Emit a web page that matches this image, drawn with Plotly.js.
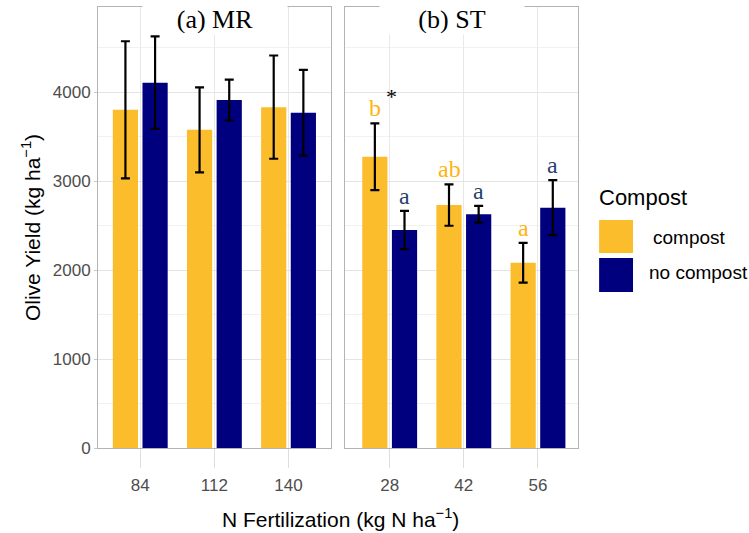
<!DOCTYPE html>
<html>
<head>
<meta charset="utf-8">
<script src="https://cdn.plot.ly/plotly-3.0.1.min.js"></script>
<style>html,body{margin:0;padding:0;background:#fff;}#chart{width:749px;height:533px;}</style>
</head>
<body>
<div id="chart"></div>
<script>
// ---- data ----
const nLevelsMR = ['84', '112', '140'];
const nLevelsST = ['28', '42', '56'];
const compostMR = [3800, 3575, 3830];
const compostMRErr = [770, 478, 580];
const noCompostMR = [4105, 3910, 3767];
const noCompostMRErr = [520, 230, 482];
const compostST = [3273, 2730, 2082];
const compostSTErr = [375, 233, 223];
const noCompostST = [2449, 2626, 2700];
const noCompostSTErr = [215, 94, 309];
const lettersCompostST = ['b', 'ab', 'a'];
const lettersNoCompostST = ['a', 'a', 'a'];
const sigMarksST = ['*', '', ''];
const seriesNames = ['compost', 'no compost'];
const panelTitles = ['(a) MR', '(b) ST'];

// ---- styles ----
const ORANGE = '#FBBD2B';
const NAVY = '#00007F';
const LETTER_ORANGE = '#FFB40F';
const LETTER_NAVY = '#2A3F70';
const SANS = 'Liberation Sans, Arial, sans-serif';
const SERIF = 'Liberation Serif, Times New Roman, serif';

function errBar(arr) {
  return {type: 'data', array: arr, visible: true, color: '#000', thickness: 2.2, width: 4.5};
}

const traces = [
  {type: 'bar', x: nLevelsMR, y: compostMR, name: seriesNames[0], marker: {color: ORANGE},
   error_y: errBar(compostMRErr), xaxis: 'x', yaxis: 'y', showlegend: false, offsetgroup: 'c'},
  {type: 'bar', x: nLevelsMR, y: noCompostMR, name: seriesNames[1], marker: {color: NAVY},
   error_y: errBar(noCompostMRErr), xaxis: 'x', yaxis: 'y', showlegend: false, offsetgroup: 'n'},
  {type: 'bar', x: nLevelsST, y: compostST, name: seriesNames[0], marker: {color: ORANGE},
   error_y: errBar(compostSTErr), xaxis: 'x2', yaxis: 'y2', showlegend: false, offsetgroup: 'c'},
  {type: 'bar', x: nLevelsST, y: noCompostST, name: seriesNames[1], marker: {color: NAVY},
   error_y: errBar(noCompostSTErr), xaxis: 'x2', yaxis: 'y2', showlegend: false, offsetgroup: 'n'}
];

const annotations = [];
// significance letters
lettersCompostST.forEach((t, i) => {
  annotations.push({xref: 'x2', yref: 'y2', x: i - 0.2, y: compostST[i] + compostSTErr[i],
    text: t, showarrow: false, yanchor: 'bottom', font: {family: SERIF, size: 24, color: LETTER_ORANGE}});
});
lettersNoCompostST.forEach((t, i) => {
  annotations.push({xref: 'x2', yref: 'y2', x: i + 0.2, y: noCompostST[i] + noCompostSTErr[i],
    text: t, showarrow: false, yanchor: 'bottom', font: {family: SERIF, size: 24, color: LETTER_NAVY}});
});
sigMarksST.forEach((t, i) => {
  if (!t) return;
  annotations.push({xref: 'x2', yref: 'y2', x: i + 0.02, y: compostST[i] + compostSTErr[i] + 300,
    text: t, showarrow: false, yanchor: 'middle', font: {family: SERIF, size: 22, color: '#000'}});
});
// panel titles
annotations.push({xref: 'paper', yref: 'paper', x: 0.243, y: 0.971, text: panelTitles[0], showarrow: false,
  yanchor: 'middle', xanchor: 'center', bgcolor: '#fff', width: 142, height: 27,
  font: {family: SERIF, size: 26, color: '#000'}});
annotations.push({xref: 'paper', yref: 'paper', x: 0.738, y: 0.971, text: panelTitles[1], showarrow: false,
  yanchor: 'middle', xanchor: 'center', bgcolor: '#fff', width: 142, height: 27,
  font: {family: SERIF, size: 26, color: '#000'}});
// x title
annotations.push({xref: 'paper', yref: 'paper', x: 0.506, y: -0.159, text: 'N Fertilization (kg N ha<sup>\u22121</sup>)',
  showarrow: false, xanchor: 'center', yanchor: 'middle', font: {family: SANS, size: 21, color: '#000'}});
// legend
annotations.push({xref: 'paper', yref: 'paper', x: 1.04, y: 0.569, text: 'Compost', showarrow: false,
  xanchor: 'left', yanchor: 'middle', font: {family: SANS, size: 22, color: '#000'}});
annotations.push({xref: 'paper', yref: 'paper', x: 1.152, y: 0.478, text: seriesNames[0], showarrow: false,
  xanchor: 'left', yanchor: 'middle', font: {family: SANS, size: 19, color: '#000'}});
annotations.push({xref: 'paper', yref: 'paper', x: 1.144, y: 0.397, text: seriesNames[1], showarrow: false,
  xanchor: 'left', yanchor: 'middle', font: {family: SANS, size: 19, color: '#000'}});

const shapes = [
  {type: 'rect', xref: 'paper', yref: 'paper', x0: 1.044, x1: 1.1146, y0: 0.442, y1: 0.517,
   fillcolor: ORANGE, line: {width: 0}},
  {type: 'rect', xref: 'paper', yref: 'paper', x0: 1.044, x1: 1.1146, y0: 0.354, y1: 0.431,
   fillcolor: NAVY, line: {width: 0}}
];

const xCommon = {
  type: 'category', showline: true, mirror: true, linecolor: '#b3b3b3', linewidth: 1,
  showgrid: true, gridcolor: '#e8e8e8', ticks: 'outside', ticklen: 19, tickcolor: '#dedede',
  ticklabelstandoff: 3,
  tickfont: {family: SANS, size: 17, color: '#4d4d4d'}, zeroline: false, fixedrange: true
};
const yCommon = {
  range: [0, 4955], tickvals: [0, 1000, 2000, 3000, 4000], showline: true, mirror: true,
  linecolor: '#b3b3b3', linewidth: 1, showgrid: true, gridcolor: '#e4e4e4', zeroline: false,
  minor: {dtick: 500, tick0: 0, showgrid: true, gridcolor: '#f1f1f1'},
  ticks: 'outside', ticklen: 3, tickcolor: '#c8c8c8',
  tickfont: {family: SANS, size: 17, color: '#4d4d4d'}
};

const layout = {
  width: 749, height: 533,
  margin: {l: 98, r: 171, t: 7, b: 85},
  paper_bgcolor: '#fff', plot_bgcolor: '#fff',
  barmode: 'group', bargap: 0.2, bargroupgap: 0.15,
  showlegend: false,
  xaxis: Object.assign({}, xCommon, {domain: [0, 0.485], range: [-0.57, 2.57], anchor: 'y'}),
  xaxis2: Object.assign({}, xCommon, {domain: [0.515, 1], range: [-0.6, 2.54], anchor: 'y2'}),
  yaxis: Object.assign({}, yCommon, {anchor: 'x',
    title: {text: 'Olive Yield (kg ha<sup>\u22121</sup>)', standoff: 6, font: {family: SANS, size: 21, color: '#000'}}}),
  yaxis2: Object.assign({}, yCommon, {anchor: 'x2', matches: 'y', showticklabels: false, ticks: ''}),
  annotations: annotations,
  shapes: shapes,
  font: {family: SANS}
};

Plotly.newPlot('chart', traces, layout, {staticPlot: true, displayModeBar: false});
</script>
</body>
</html>
